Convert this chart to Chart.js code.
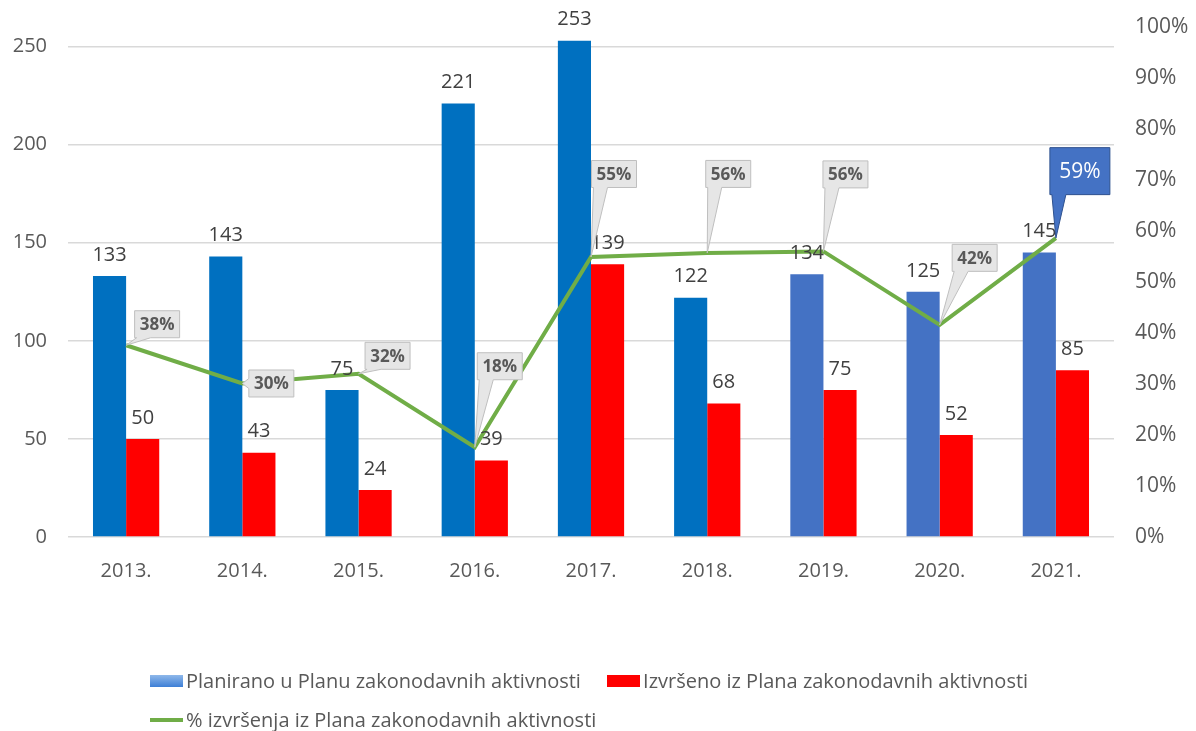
<!DOCTYPE html>
<html lang="hr">
<head>
  <meta charset="UTF-8">
  <title>Plan zakonodavnih aktivnosti</title>
  <style>
    body {
      margin: 0;
      background: #fff;
      font-family: 'Open Sans', sans-serif;
    }
    .wrap {
      position: relative;
      width: 1196px;
      height: 731px;
    }
    .legend {
      position: absolute;
      left: 150px;
      font-size: 20px;
      line-height: 24px;
      color: #595959;
      white-space: nowrap;
    }
    .legend span.item {
      display: inline-flex;
      align-items: center;
      margin-right: 21px;
    }
    .swatch {
      display: inline-block;
      width: 33px;
      height: 12px;
      margin-right: 3px;
    }
    .sw-blue { background: linear-gradient(#8fb8ea, #3d7fd6); }
    .sw-red { background: #ff0000; }
    .sw-line { height: 4px; background: #70ad47; }
  </style>
  <script src="https://cdn.jsdelivr.net/npm/chart.js"></script>
</head>
<body>
  <div class="wrap">
    <canvas id="chart" width="1196" height="731"></canvas>
    <div class="legend" style="top:668px">
      <span class="item"><span class="swatch sw-blue"></span>Planirano u Planu zakonodavnih aktivnosti</span>
      <span class="item"><span class="swatch sw-red"></span>Izvršeno iz Plana zakonodavnih aktivnosti</span>
    </div>
    <div class="legend" style="top:703px">
      <span class="item"><span class="swatch sw-line"></span>% izvršenja iz Plana zakonodavnih aktivnosti</span>
    </div>
  </div>

  <script>
    const years = ['2013.', '2014.', '2015.', '2016.', '2017.', '2018.', '2019.', '2020.', '2021.'];
    const planned = [133, 143, 75, 221, 253, 122, 134, 125, 145];
    const done = [50, 43, 24, 39, 139, 68, 75, 52, 85];
    const pctDone = [0.376, 0.301, 0.32, 0.176, 0.549, 0.557, 0.56, 0.416, 0.586];
    const pctLabels = ['38%', '30%', '32%', '18%', '55%', '56%', '56%', '42%', '59%'];
    const leftTicks = [0, 50, 100, 150, 200, 250];

    const plannedColors = ['#0070c0', '#0070c0', '#0070c0', '#0070c0', '#0070c0', '#0070c0', '#4472c4', '#4472c4', '#4472c4'];

    // callout box offsets from the line point (box centre)
    const calloutOffset = [[31, -21], [29, 0], [29, -18], [25, -81], [23, -83], [21, -79], [22, -77], [35, -67], [24, -67]];

    const FONT = "'Open Sans', sans-serif";

    function calloutPath(ctx, l, t, w, h, px, py) {
      const r = l + w, b = t + h;
      ctx.beginPath();
      if (py > b) {
        // wedge on bottom edge
        const c = Math.min(Math.max(px, l + 9), r - 9);
        ctx.moveTo(l, t);
        ctx.lineTo(r, t);
        ctx.lineTo(r, b);
        ctx.lineTo(c + 7, b);
        ctx.lineTo(px, py);
        ctx.lineTo(c - 7, b);
        ctx.lineTo(l, b);
        ctx.closePath();
      } else {
        // wedge on left edge
        const c = Math.min(Math.max(py, t + 7), b - 7);
        ctx.moveTo(l, t);
        ctx.lineTo(r, t);
        ctx.lineTo(r, b);
        ctx.lineTo(l, b);
        ctx.lineTo(l, c + 5);
        ctx.lineTo(px, py);
        ctx.lineTo(l, c - 5);
        ctx.closePath();
      }
    }

    const labelPlugin = {
      id: 'labelPlugin',
      afterDatasetsDraw(chart) {
        const ctx = chart.ctx;
        ctx.save();
        // bar values
        ctx.font = '20px ' + FONT;
        ctx.fillStyle = '#404040';
        ctx.textAlign = 'center';
        ctx.textBaseline = 'middle';
        [0, 1].forEach(di => {
          const meta = chart.getDatasetMeta(di);
          meta.data.forEach((bar, i) => {
            ctx.fillText(chart.data.datasets[di].data[i], bar.x, bar.y - 21);
          });
        });
        // percentage callouts
        const lineMeta = chart.getDatasetMeta(2);
        lineMeta.data.forEach((pt, i) => {
          const last = i === pctLabels.length - 1;
          const w = last ? 60 : 45;
          const h = last ? 47 : 27;
          const cx = pt.x + calloutOffset[i][0];
          const cy = pt.y + calloutOffset[i][1];
          const l = cx - w / 2, t = cy - h / 2;
          calloutPath(ctx, l, t, w, h, pt.x, pt.y);
          ctx.fillStyle = last ? '#4472c4' : '#e6e6e6';
          ctx.fill();
          ctx.lineWidth = 1;
          ctx.strokeStyle = last ? '#2f528f' : '#bfbfbf';
          ctx.stroke();
          ctx.fillStyle = last ? '#ffffff' : '#595959';
          ctx.font = (last ? '21px ' : 'bold 17px ') + FONT;
          ctx.fillText(pctLabels[i], cx, cy + 1);
        });
        ctx.restore();
      }
    };

    new Chart(document.getElementById('chart'), {
      type: 'bar',
      data: {
        labels: years,
        datasets: [
          {
            label: 'Planirano u Planu zakonodavnih aktivnosti',
            data: planned,
            backgroundColor: plannedColors,
            yAxisID: 'y',
            order: 2
          },
          {
            label: 'Izvršeno iz Plana zakonodavnih aktivnosti',
            data: done,
            backgroundColor: '#ff0000',
            yAxisID: 'y',
            order: 2
          },
          {
            type: 'line',
            label: '% izvršenja iz Plana zakonodavnih aktivnosti',
            data: pctDone,
            borderColor: '#70ad47',
            borderWidth: 4,
            pointRadius: 0,
            tension: 0,
            yAxisID: 'y1',
            order: 1
          }
        ]
      },
      options: {
        responsive: false,
        animation: false,
        datasets: {
          bar: { barPercentage: 1, categoryPercentage: 0.57 }
        },
        layout: { padding: { top: 27, bottom: 0, left: 0, right: 0 } },
        plugins: {
          legend: { display: false },
          tooltip: { enabled: false }
        },
        scales: {
          x: {
            grid: { display: false },
            border: { display: false },
            ticks: { color: '#595959', font: { family: FONT, size: 20 }, padding: 14 },
            afterFit(axis) { axis.height = 194; }
          },
          y: {
            min: 0,
            max: 260,
            ticks: { stepSize: 50, color: '#595959', font: { family: FONT, size: 20 }, padding: 2 },
            afterBuildTicks(axis) { axis.ticks = leftTicks.map(v => ({ value: v })); },
            // tick marks kept invisible; their length sets the label gap
            grid: { color: '#d9d9d9', lineWidth: 1.5, drawTicks: true, tickLength: 19, tickColor: 'rgba(0,0,0,0)' },
            border: { display: false },
            afterFit(axis) { axis.width = 68; }
          },
          y1: {
            position: 'right',
            min: 0,
            max: 1,
            ticks: {
              stepSize: 0.1,
              color: '#595959',
              font: { family: FONT, size: 21 },
              padding: 2,
              callback: v => Math.round(v * 100) + '%'
            },
            grid: { drawOnChartArea: false, drawTicks: true, tickLength: 19, tickColor: 'rgba(0,0,0,0)' },
            border: { display: false },
            afterFit(axis) { axis.width = 82; }
          }
        }
      },
      plugins: [labelPlugin]
    });
  </script>
</body>
</html>
